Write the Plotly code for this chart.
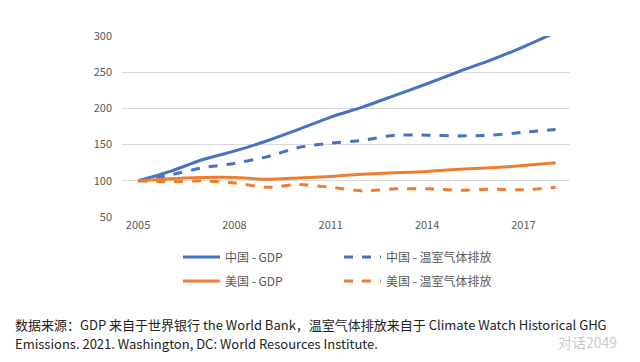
import plotly.graph_objects as go

years = list(range(2005, 2019))
china_gdp = [100, 113, 129, 141, 155, 171, 188, 202, 218, 234, 251, 267, 285, 305]
china_ghg = [100, 108, 118, 124, 133, 146, 152, 156, 163, 163, 162, 163, 167, 171]
us_gdp = [100, 103, 104.5, 104.6, 102, 104, 106, 109, 111, 113, 116, 118, 121, 125]
us_ghg = [100, 98.5, 100, 97, 91, 95, 91, 86, 89, 89, 87, 88.5, 87.5, 91]

names = ["中国 - GDP", "中国 - 温室气体排放", "美国 - GDP", "美国 - 温室气体排放"]
x_ticks = [2005, 2008, 2011, 2014, 2017]
y_ticks = [50, 100, 150, 200, 250, 300]
source_lines = [
    "数据来源：GDP 来自于世界银行 the World Bank，温室气体排放来自于 Climate Watch Historical GHG",
    "Emissions. 2021. Washington, DC: World Resources Institute.",
]
watermark = "对话2049"

BLUE = "#4472C4"
ORANGE = "#ED7D31"
FONT = "Noto Sans CJK SC"

fig = go.Figure()
series = [
    (names[0], china_gdp, BLUE, "solid", "legend"),
    (names[1], china_ghg, BLUE, "dash", "legend"),
    (names[2], us_gdp, ORANGE, "solid", "legend2"),
    (names[3], us_ghg, ORANGE, "dash", "legend2"),
]
for name, vals, col, dash, lg in series:
    fig.add_trace(go.Scatter(
        x=years, y=vals, name=name, mode="lines", legend=lg,
        line=dict(color=col, width=3, dash=dash, shape="spline", smoothing=0.6),
    ))

leg_common = dict(
    orientation="h", xref="container", yref="container",
    xanchor="left", yanchor="middle",
    entrywidth=109, entrywidthmode="pixels", itemwidth=37,
    font=dict(family=FONT, size=12, color="#595959"),
    bgcolor="rgba(0,0,0,0)",
)

fig.update_layout(
    width=640, height=362,
    margin=dict(l=122, r=70, t=36, b=145, autoexpand=False),
    paper_bgcolor="white", plot_bgcolor="white",
    font=dict(family=FONT, size=11, color="#595959"),
    showlegend=True,
    legend=dict(leg_common, x=178 / 640, y=1 - 257 / 362),
    legend2=dict(leg_common, x=178 / 640, y=1 - 281 / 362),
    xaxis=dict(
        range=[2004.5, 2018.45], tickvals=x_ticks, showgrid=False,
        zeroline=False, showline=False, ticks="",
    ),
    yaxis=dict(
        range=[50, 300], tickvals=y_ticks, showgrid=True, gridcolor="#D9D9D9",
        gridwidth=1, zeroline=False, showline=False, ticks="",
        ticklabelstandoff=9,
    ),
)

for line, yc in zip(source_lines, [324, 343]):
    fig.add_annotation(
        xref="paper", yref="paper", x=(13 - 122) / 448, y=(217 - yc) / 181,
        showarrow=False, text=line, align="left", xanchor="left", yanchor="middle",
        font=dict(family=FONT, size=13, color="#222222"),
    )
fig.add_annotation(
    xref="paper", yref="paper", x=(619 - 122) / 448, y=(217 - 342) / 181,
    showarrow=False, text=watermark, xanchor="right", yanchor="middle",
    font=dict(family=FONT, size=14, color="rgba(150,150,150,0.5)"),
)

fig.write_html("out.html", config={"displayModeBar": False},
               post_script="document.body.style.margin='0';")
